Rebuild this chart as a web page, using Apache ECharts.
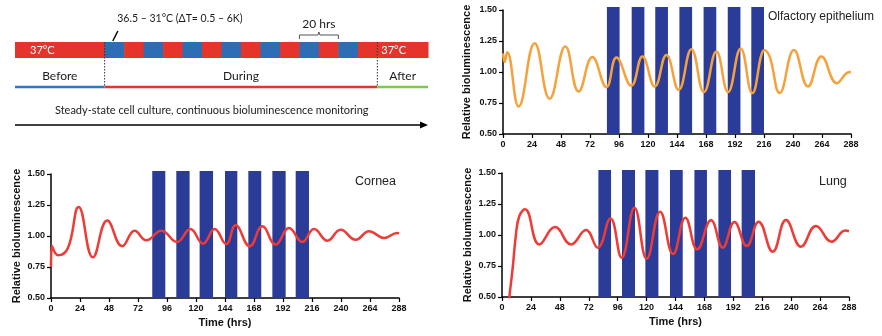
<!DOCTYPE html>
<html><head><meta charset="utf-8">
<script src="https://cdn.jsdelivr.net/npm/echarts@6/dist/echarts.min.js"></script>
<style>html,body{margin:0;padding:0;background:#fff}#c{width:882px;height:336px}</style>
</head><body><div id="c"></div>
<script>
// ---------- data ----------
const xTicks = [0,24,48,72,96,120,144,168,192,216,240,264,288];
const yTicks = [0.50,0.75,1.00,1.25,1.50];

const olfTime  = [0,1.4,3.5,13,26.2,38.6,51.6,62.6,74,85.6,93.9,106.2,115.4,125.6,135.2,145.4,155.9,166.3,176.6,186.2,196.7,206.4,216.6,220.7,229,240.8,252.4,263.5,276.4,284.2,288];
const olfValue = [1.15,1.08,1.16,0.722,1.232,0.784,1.205,0.843,1.12,0.878,1.116,0.889,1.124,0.883,1.138,0.856,1.184,0.838,1.165,0.838,1.19,0.83,1.178,1.124,0.83,1.178,0.883,1.124,0.91,0.99,1.0];
const olfPulseStart = [86,106.5,126,146,166,186,205.5];
const olfPulseEnd   = [96.5,117,136.5,156.5,176.5,196.5,216];

const corTime  = [0,0.7,5.8,14,22.9,34.7,46.6,59,69.2,78.9,91.3,104.3,115.3,125.8,135.4,145,152.8,164.4,174.9,185.9,197,208,217.7,228.7,239.7,252.1,263.2,275.6,286.6,288];
const corValue = [0.75,0.92,0.844,0.903,1.234,0.828,1.124,0.917,1.043,0.965,1.043,0.952,1.056,0.938,1.056,0.935,1.086,0.917,1.078,0.93,1.065,0.952,1.056,0.962,1.051,0.97,1.038,0.984,1.024,1.02];
const corPulseStart = [83.8,103.7,123,144,163.3,183.2,202.5];
const corPulseEnd   = [94.6,114.7,134.1,154.2,174,194.2,213.5];

const lungTime  = [4,6.1,8.9,11.6,14.4,19.1,31,44,57.3,69.7,79.4,90,99.3,109.9,120.1,131.2,142,152.2,162,173.5,183.2,192.9,203.1,213,224.7,235.7,248.2,260.6,273.6,285,288];
const lungValue = [0.3,0.5,0.736,1.005,1.153,1.207,0.924,1.064,0.924,1.04,0.898,1.134,0.817,1.22,0.809,1.188,0.846,1.14,0.884,1.118,0.898,1.105,0.911,1.107,0.865,1.12,0.906,1.073,0.946,1.037,1.03];
const lungPulseStart = [80,99.6,119,139.4,159.7,179.6,198.9];
const lungPulseEnd   = [90.5,110.4,129.8,150,170.1,190.1,210];

const pulseTop = 1.525;

// schematic (time in hrs along the protocol)
const schemeStripeStart = [0,46,56,66,76,86,96,106,116,126,136,146,156,166,176,186];
const schemeStripeEnd   = [46,56,66,76,86,96,106,116,126,136,146,156,166,176,186,212];
const schemeStripeKind  = ['warm','cold','warm','cold','warm','cold','warm','cold','warm','cold','warm','cold','warm','cold','warm','warm'];
const schemeStripeText  = ['37°C','','','','','','','','','','','','','','','37°C'];
const phaseNames = ['Before','During','After'];
const phaseStart = [0,46,186];
const phaseEnd   = [46,186,212];
const periodBrace = [146,166];

// ---------- helpers ----------
const zip = (a,b)=>a.map((v,i)=>[v,b[i]]);
const FONT = 'Liberation Sans, Arial, sans-serif';
const SFONT = 'Lato, sans-serif';
const BAR = '#2B3B98';
const colors = {warm:'#E5352B', cold:'#2C6DB5'};
const phaseColors = ['#2F76C4','#E5352B','#7CCB48'];

function xAx(gi, name){
  return {gridIndex:gi, type:'value', min:0, max:288, interval:24,
    axisLine:{show:true,lineStyle:{color:'#000',width:1.5}},
    axisTick:{show:true,length:4,lineStyle:{color:'#000',width:1.2}},
    axisLabel:{color:'#111',fontFamily:FONT,fontWeight:'bold',fontSize:9,margin:6},
    splitLine:{show:false},
    name:name||'', nameLocation:'middle', nameGap:19,
    nameTextStyle:{color:'#111',fontFamily:FONT,fontWeight:'bold',fontSize:11}};
}
function yAx(gi, gap){
  return {gridIndex:gi, type:'value', min:0.5, max:1.5, interval:0.25,
    axisLine:{show:true,lineStyle:{color:'#000',width:1.5}},
    axisTick:{show:true,length:4,lineStyle:{color:'#000',width:1.2}},
    axisLabel:{color:'#111',fontFamily:FONT,fontWeight:'bold',fontSize:9,margin:6,formatter:v=>v.toFixed(2)},
    splitLine:{show:false},
    name:'Relative bioluminescence', nameLocation:'middle', nameGap:gap, nameRotate:90,
    nameTextStyle:{color:'#111',fontFamily:FONT,fontWeight:'bold',fontSize:11}};
}
function pulses(gi, st, en){
  return {type:'custom', xAxisIndex:gi, yAxisIndex:gi, z:1, clip:false,
    data: zip(st,en),
    renderItem:(p,api)=>{
      const a = api.coord([api.value(0), 0.5]);
      const b = api.coord([api.value(1), pulseTop]);
      return {type:'rect', shape:{x:a[0], y:b[1], width:b[0]-a[0], height:a[1]-b[1]}, style:{fill:BAR}};
    }};
}
function curve(gi, t, v, color){
  return {type:'line', xAxisIndex:gi, yAxisIndex:gi, z:3, data:zip(t,v), smooth:0.45,
    showSymbol:false, lineStyle:{color:color,width:2.5}};
}

// schematic series
const stripeSeries = {type:'custom', xAxisIndex:3, yAxisIndex:3, clip:false,
  data: zip(schemeStripeStart, schemeStripeEnd),
  renderItem:(p,api)=>{
    const i = p.dataIndex;
    const a = api.coord([api.value(0), 42]);
    const b = api.coord([api.value(1), 58]);
    const ch = [{type:'rect', shape:{x:a[0], y:a[1], width:b[0]-a[0]+0.5, height:b[1]-a[1]}, style:{fill:colors[schemeStripeKind[i]]}}];
    if (schemeStripeText[i]) {
      ch.push({type:'text', x:a[0] + (i===0 ? 15 : 4), y:(a[1]+b[1])/2,
        style:{text:schemeStripeText[i], fill:'#fff', font:'11px '+SFONT, align:'left', verticalAlign:'middle'}});
    }
    return {type:'group', children:ch};
  }};
const phaseSeries = {type:'custom', xAxisIndex:3, yAxisIndex:3, clip:false,
  data: zip(phaseStart, phaseEnd),
  renderItem:(p,api)=>{
    const i = p.dataIndex;
    const a = api.coord([api.value(0), 87]);
    const b = api.coord([api.value(1), 87]);
    const ch = [
      {type:'line', shape:{x1:a[0], y1:a[1], x2:b[0], y2:b[1]}, style:{stroke:phaseColors[i], lineWidth:2.5}},
      {type:'text', x:(a[0]+b[0])/2, y:api.coord([0,76])[1],
        style:{text:phaseNames[i], fill:'#1a1a1a', font:'12px '+SFONT, align:'center', verticalAlign:'middle'}}
    ];
    if (i>0) {
      const t = api.coord([api.value(0), 42]);
      ch.push({type:'line', shape:{x1:t[0], y1:t[1], x2:t[0], y2:a[1]}, style:{stroke:'#333', lineWidth:1, lineDash:[1.5,1.5]}});
    }
    return {type:'group', children:ch};
  }};
const annotSeries = {type:'custom', xAxisIndex:3, yAxisIndex:3, clip:false,
  data: [[phaseStart[0], phaseEnd[2]]],
  renderItem:(p,api)=>{
    const a = api.coord([api.value(0), 125]);
    const b = api.coord([api.value(1), 125]);
    const mid = api.coord([(api.value(0)+api.value(1))/2 - 5, 110]);
    const lab = api.coord([phaseEnd[0]+6.5, 19]);
    const s1 = api.coord([phaseEnd[0]+6.8, 31]);
    const s2 = api.coord([phaseEnd[0]+4.2, 41]);
    const br0 = api.coord([periodBrace[0], 35]);
    const br1 = api.coord([periodBrace[1], 35]);
    const bm = (br0[0]+br1[0])/2;
    return {type:'group', children:[
      {type:'line', shape:{x1:a[0], y1:a[1], x2:b[0]-6, y2:b[1]}, style:{stroke:'#000', lineWidth:1.5}},
      {type:'polygon', shape:{points:[[b[0],b[1]],[b[0]-8,b[1]-3.5],[b[0]-8,b[1]+3.5]]}, style:{fill:'#000'}},
      {type:'text', x:mid[0], y:mid[1], style:{text:'Steady-state cell culture, continuous bioluminescence monitoring', fill:'#1a1a1a', font:'11px '+SFONT, align:'center', verticalAlign:'middle'}},
      {type:'text', x:lab[0], y:lab[1], style:{text:'36.5 – 31°C (ΔT= 0.5 – 6K)', fill:'#1a1a1a', font:'10.5px '+SFONT, align:'left', verticalAlign:'middle'}},
      {type:'line', shape:{x1:s1[0], y1:s1[1], x2:s2[0], y2:s2[1]}, style:{stroke:'#000', lineWidth:1.5}},
      {type:'polyline', shape:{points:[[br0[0],br0[1]+4],[br0[0],br0[1]],[bm-1,br0[1]],[bm,br0[1]-3],[bm+1,br0[1]],[br1[0],br1[1]],[br1[0],br1[1]+4]]}, style:{stroke:'#555', lineWidth:1, fill:null}},
      {type:'text', x:bm, y:api.coord([0,24])[1], style:{text:'20 hrs', fill:'#1a1a1a', font:'12px '+SFONT, align:'center', verticalAlign:'middle'}}
    ]};
  }};

const chart = echarts.init(document.getElementById('c'), null, {renderer:'canvas'});
chart.setOption({
  animation:false,
  backgroundColor:'#fff',
  grid:[
    {left:503, top:10, width:348, height:124},
    {left:51, top:174, width:348, height:124},
    {left:502, top:173, width:347, height:124},
    {left:15, top:0, width:413, height:140}
  ],
  xAxis:[xAx(0), xAx(1,'Time (hrs)'), xAx(2,'Time (hrs)'),
    {gridIndex:3, type:'value', min:0, max:212, show:false}],
  yAxis:[yAx(0,31), yAx(1,29), yAx(2,29),
    {gridIndex:3, type:'value', min:0, max:140, inverse:true, show:false}],
  graphic:[
    {type:'text', left:768, top:11, style:{text:'Olfactory epithelium', font:'12px '+FONT, fill:'#222'}},
    {type:'text', left:355, top:175, style:{text:'Cornea', font:'12.5px '+FONT, fill:'#222'}},
    {type:'text', left:819, top:175, style:{text:'Lung', font:'12.5px '+FONT, fill:'#222'}}
  ],
  series:[
    pulses(0, olfPulseStart, olfPulseEnd),
    pulses(1, corPulseStart, corPulseEnd),
    pulses(2, lungPulseStart, lungPulseEnd),
    curve(0, olfTime, olfValue, '#F5A23C'),
    curve(1, corTime, corValue, '#EE3B36'),
    curve(2, lungTime, lungValue, '#EE3B36'),
    stripeSeries, phaseSeries, annotSeries
  ]
});
</script></body></html>
